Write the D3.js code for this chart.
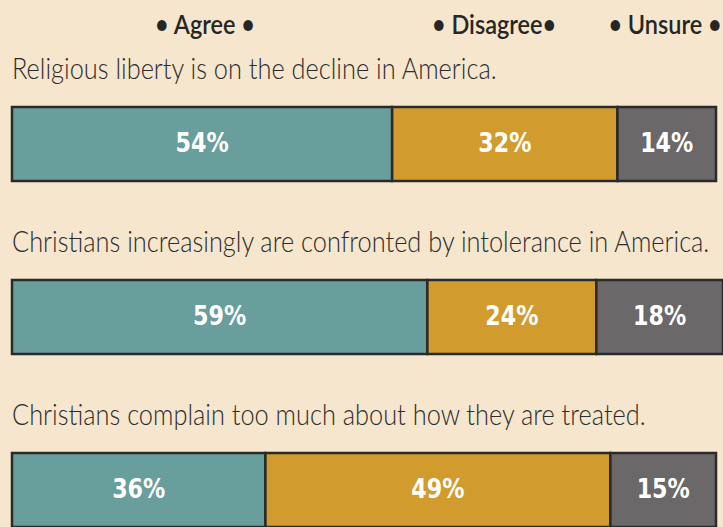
<!DOCTYPE html>
<html>
<head>
<meta charset="utf-8">
<script src="https://cdn.jsdelivr.net/npm/d3@7"></script>
<style>
  html, body { margin: 0; padding: 0; background: #f5e6cd; }
  svg { display: block; }
</style>
</head>
<body>
<div id="chart"></div>
<script>
const questions = [
  "Religious liberty is on the decline in America.",
  "Christians increasingly are confronted by intolerance in America.",
  "Christians complain too much about how they are treated."
];
const responses = ["Agree", "Disagree", "Unsure"];
const legendLabels = ["\u2022 Agree \u2022", "\u2022 Disagree\u2022", "\u2022 Unsure \u2022"];
const agree = [54, 59, 36];
const disagree = [32, 24, 49];
const unsure = [14, 18, 15];

function drawAttitudeBars(divId, options = {}) {
  const {
    width = 723,
    height = 527,
    background = "#f5e6cd",
    colors = ["#689e9b", "#d19c2d", "#6a6868"],
    stroke = "#2a2a2a",
    questionSquash = 0.875, // the original uses a condensed face
    legendSquash = 0.87,
    labelSquash = 0.95,
  } = options;

  const margin = { top: 107, right: 7, left: 12 };
  const barHeight = 74;
  const rowStep = 173;

  const svg = d3.select(`#${divId}`)
    .append("svg")
    .attr("width", width)
    .attr("height", height)
    .style("background", background);

  const rows = questions.map((q, i) => {
    const row = { question: q };
    row.Agree = agree[i];
    row.Disagree = disagree[i];
    row.Unsure = unsure[i];
    return row;
  });

  const stacked = d3.stack().keys(responses)(rows);

  const x = d3.scaleLinear()
    .domain([0, 100])
    .range([margin.left, width - margin.right]);

  // band scale so that each bar is barHeight tall and rows are rowStep apart
  const pad = (rowStep - barHeight) / rowStep;
  const y = d3.scaleBand()
    .domain(questions)
    .range([margin.top, margin.top + questions.length * rowStep - (rowStep - barHeight)])
    .paddingInner(pad)
    .paddingOuter(0);

  const color = d3.scaleOrdinal(colors).domain(responses);

  // legend across the top
  const legendX = d3.scaleOrdinal()
    .domain(responses)
    .range([205, 494, 665]);

  svg.selectAll(".legend")
    .data(responses)
    .join("text")
    .attr("class", "legend")
    .attr("text-anchor", "middle")
    .attr("transform", (d) => `translate(${legendX(d)},34) scale(${legendSquash},1)`)
    .style("font-family", "Lato, 'DejaVu Sans'")
    .style("font-size", "27px")
    .style("font-weight", 600)
    .style("fill", "#262626")
    .text((d, i) => legendLabels[i]);

  // question texts
  svg.selectAll(".question")
    .data(questions)
    .join("text")
    .attr("class", "question")
    .attr("transform", (d) => `translate(${margin.left},${y(d) - 28}) scale(${questionSquash},1)`)
    .style("font-family", "Lato, 'DejaVu Sans'")
    .style("font-size", "29px")
    .style("font-weight", 300)
    .style("fill", "#2c2c2c")
    .text((d) => d);

  // stacked segments
  const layers = svg.selectAll(".layer")
    .data(stacked)
    .join("g")
    .attr("class", "layer")
    .attr("fill", (d) => color(d.key));

  layers.selectAll("rect")
    .data((d) => d)
    .join("rect")
    .attr("x", (d) => x(d[0]))
    .attr("y", (d) => y(d.data.question))
    .attr("width", (d) => x(d[1]) - x(d[0]))
    .attr("height", y.bandwidth())
    .attr("stroke", stroke)
    .attr("stroke-width", 2.5);

  // percentage labels
  layers.selectAll("text")
    .data((d) => d)
    .join("text")
    .attr("text-anchor", "middle")
    .attr("transform", (d) =>
      `translate(${(x(d[0]) + x(d[1])) / 2},${y(d.data.question) + y.bandwidth() / 2 + 8}) scale(${labelSquash},1)`)
    .style("font-family", "'DejaVu Sans Condensed', 'DejaVu Sans'")
    .style("font-stretch", "condensed")
    .style("font-size", "26px")
    .style("font-weight", "bold")
    .style("fill", "#ffffff")
    .text((d) => `${d[1] - d[0]}%`);
}

drawAttitudeBars("chart");
</script>
</body>
</html>
